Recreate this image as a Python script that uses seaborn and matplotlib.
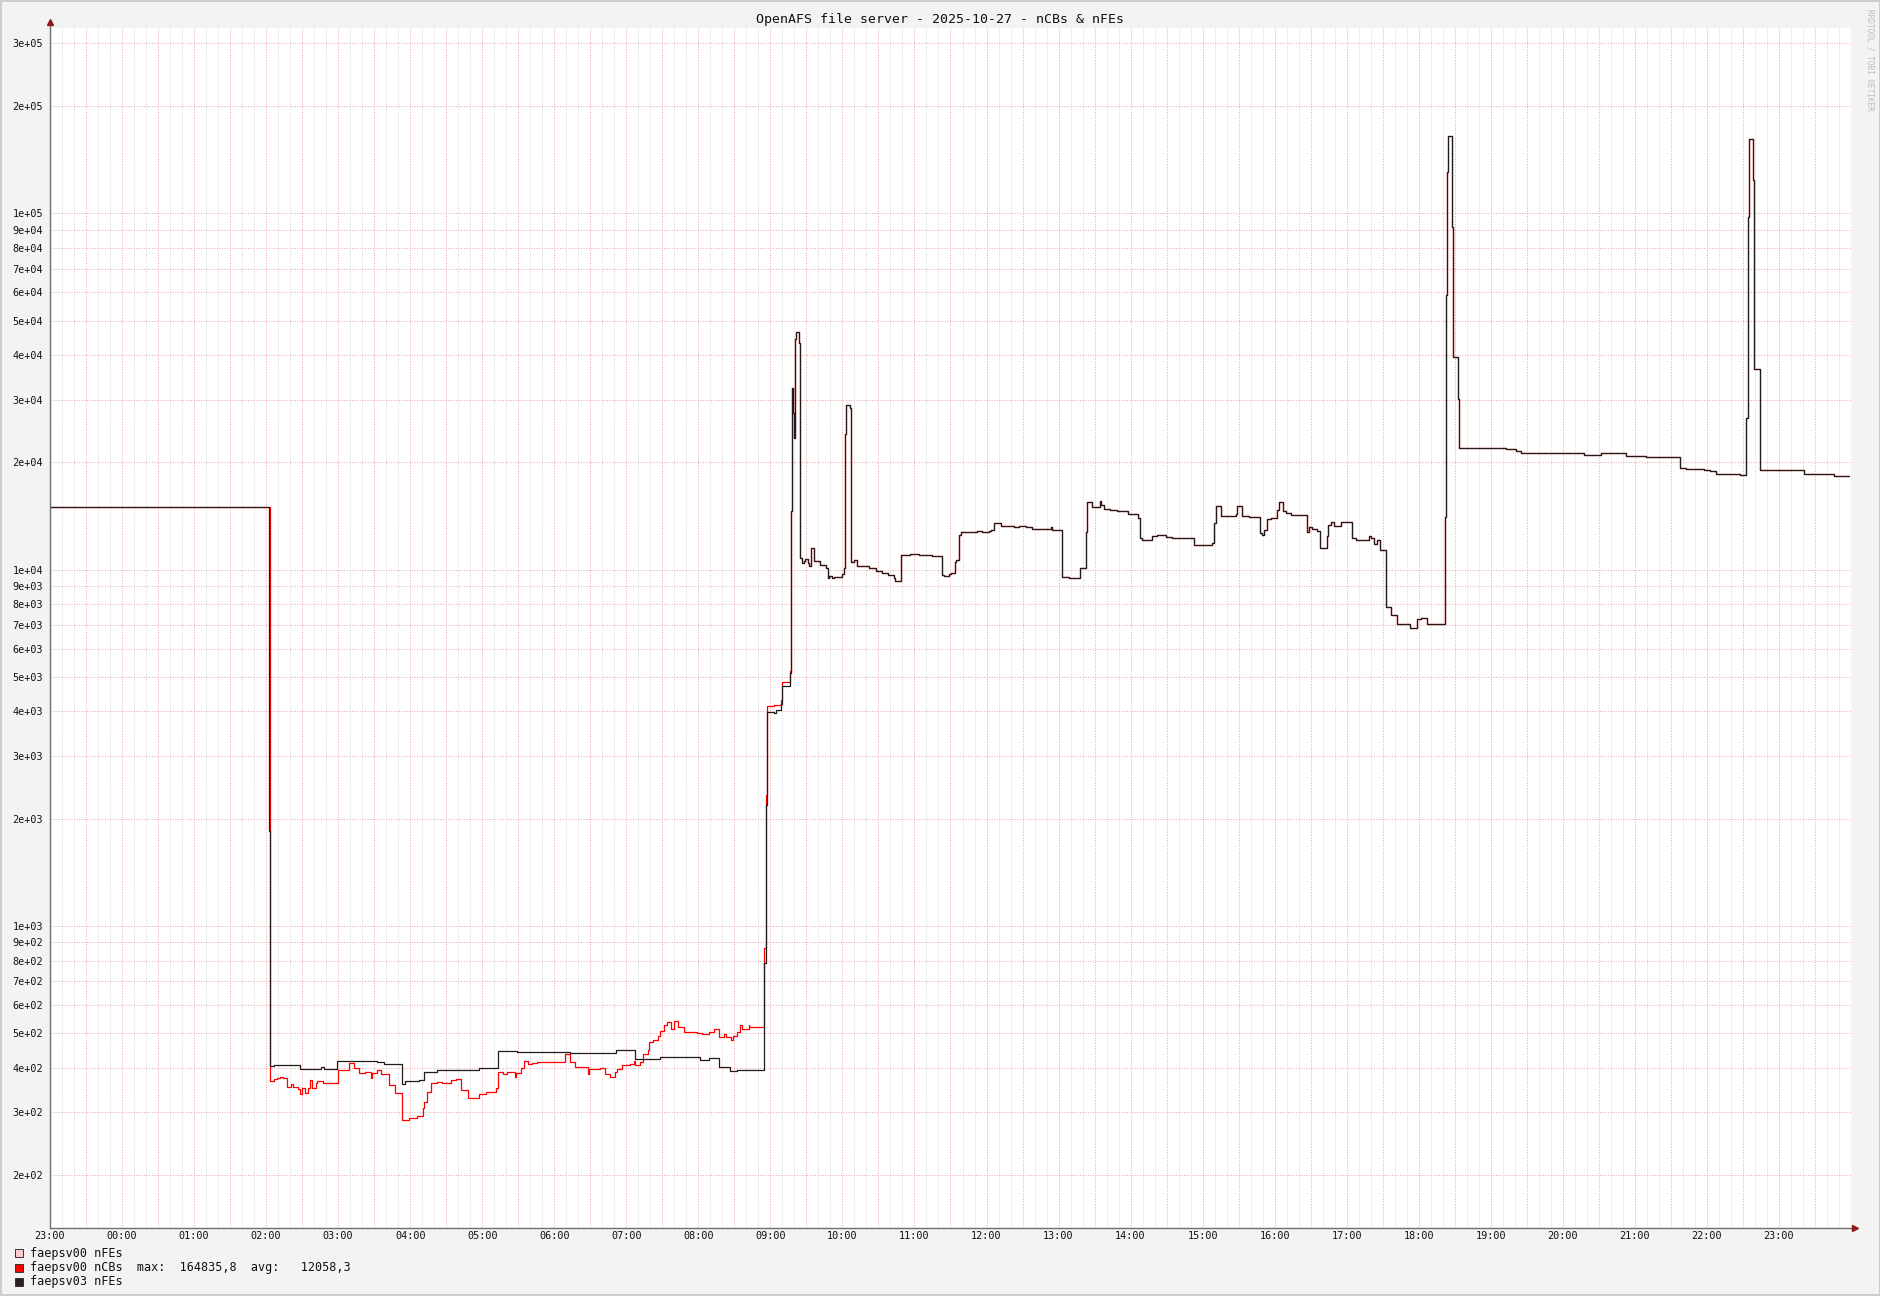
import numpy as np
import pandas as pd
import matplotlib
matplotlib.use("Agg")
import matplotlib.pyplot as plt
from matplotlib.patches import Rectangle
from matplotlib.lines import Line2D
from matplotlib.ticker import NullLocator
import seaborn as sns

# hours since 23:00 of the previous day
black_night_t = [0.0, 3.040, 3.056, 3.111, 3.467, 3.760, 3.808, 3.979, 4.222, 4.539,
                 4.637, 4.881, 4.930, 5.125, 5.197, 5.368, 5.953, 6.221, 6.489, 7.220,
                 7.853, 8.125, 8.472, 8.796, 8.958, 9.028, 9.144, 9.282, 9.444, 9.537,
                 9.907, 9.935, 9.949, 10.046, 10.083, 10.148, 10.162, 10.269]
black_night_v = [15000, 1850, 405, 408, 398, 402, 396, 419, 417, 415,
                 410, 361, 367, 369, 390, 393, 399, 446, 443, 439,
                 448, 422, 428, 430, 428, 421, 426, 401, 392, 395,
                 785, 2186, 3995, 3950, 4050, 4200, 4717, 5117]

red_night_t = [0.0, 3.056, 3.111, 3.148, 3.194, 3.231, 3.296, 3.346, 3.370, 3.443,
               3.475, 3.492, 3.541, 3.580, 3.614, 3.638, 3.687, 3.711, 3.784, 3.994,
               4.150, 4.223, 4.296, 4.369, 4.450, 4.466, 4.540, 4.588, 4.710, 4.783,
               4.881, 4.978, 5.100, 5.173, 5.197, 5.240, 5.295, 5.368, 5.441, 5.563,
               5.636, 5.709, 5.807, 5.953, 6.050, 6.197, 6.221, 6.294, 6.343, 6.450,
               6.465, 6.538, 6.586, 6.635, 6.684, 6.757, 7.147, 7.220, 7.293, 7.366,
               7.463, 7.480, 7.639, 7.708, 7.778, 7.847, 7.870, 7.940, 8.056, 8.102,
               8.125, 8.194, 8.227, 8.296, 8.320, 8.366, 8.435, 8.472, 8.519, 8.565,
               8.625, 8.657, 8.718, 8.796, 8.981, 9.051, 9.144, 9.213, 9.282, 9.361,
               9.384, 9.454, 9.477, 9.537, 9.574, 9.606, 9.700, 9.708, 9.907, 9.935,
               9.949, 10.046, 10.148, 10.162, 10.269]
red_night_v = [15000, 367, 372, 374, 377, 375, 354, 360, 354, 348,
               338, 350, 340, 350, 370, 350, 362, 367, 363, 393,
               413, 400, 387, 390, 375, 387, 393, 383, 357, 340,
               285, 290, 293, 309, 320, 342, 362, 366, 362, 370,
               372, 346, 330, 337, 342, 350, 389, 383, 389, 378,
               387, 400, 418, 409, 413, 415, 436, 416, 403, 401,
               385, 398, 400, 384, 378, 388, 397, 407, 409, 418,
               407, 416, 437, 448, 471, 478, 490, 508, 527, 538,
               515, 540, 520, 503, 500, 497, 505, 513, 489, 497,
               489, 480, 492, 503, 527, 513, 527, 520, 865, 2334,
               4146, 4160, 4300, 4850, 5200]

# from ~09:17 on both series run together
day_t = [10.282, 10.296, 10.315, 10.325, 10.347, 10.361, 10.393, 10.412, 10.440, 10.463,
         10.477, 10.519, 10.542, 10.565, 10.602, 10.685, 10.778, 10.796, 10.819, 10.856,
         10.880, 10.995, 11.019, 11.042, 11.051, 11.102, 11.120, 11.157, 11.204, 11.375,
         11.468, 11.551, 11.629, 11.713, 11.736, 11.806, 11.815, 11.944, 12.060, 12.245,
         12.384, 12.407, 12.477, 12.509, 12.556, 12.583, 12.616, 12.639, 12.801, 12.870,
         12.940, 13.032, 13.056, 13.102, 13.204, 13.380, 13.449, 13.542, 13.634, 13.657,
         13.889, 13.912, 14.051, 14.144, 14.213, 14.296, 14.384, 14.398, 14.468, 14.514,
         14.574, 14.593, 14.630, 14.713, 14.806, 14.884, 14.963, 15.046, 15.102, 15.130,
         15.162, 15.292, 15.370, 15.486, 15.579, 15.880, 16.134, 16.157, 16.181, 16.250,
         16.458, 16.481, 16.551, 16.644, 16.796, 16.829, 16.852, 16.889, 16.944, 17.037,
         17.060, 17.116, 17.153, 17.222, 17.454, 17.477, 17.523, 17.593, 17.630, 17.722,
         17.741, 17.778, 17.824, 17.917, 18.079, 18.125, 18.310, 18.333, 18.380, 18.417,
         18.458, 18.542, 18.611, 18.704, 18.880, 18.972, 19.028, 19.120, 19.366, 19.384,
         19.398, 19.407, 19.458, 19.477, 19.546, 19.565, 20.208, 20.347, 20.426, 20.532,
         21.296, 21.528, 21.713, 21.875, 22.153, 22.630, 22.708, 22.963, 23.046, 23.125,
         23.463, 23.542, 23.565, 23.579, 23.634, 23.648, 23.657, 23.731, 24.352, 24.769,
         24.977]
day_v = [14640, 32300, 27500, 23400, 44300, 46600, 43400, 10770, 10420, 10600,
         10700, 10420, 10250, 11530, 10590, 10330, 10090, 9460, 9600, 9460,
         9540, 9700, 10100, 24100, 29000, 28400, 10500, 10650, 10250, 10100,
         9900, 9800, 9690, 9500, 9310, 10000, 11000, 11080, 11000, 10900,
         9690, 9620, 9750, 9800, 10530, 10650, 12500, 12730, 12780, 12830,
         12730, 12850, 12950, 13550, 13270, 13220, 13270, 13220, 13050, 12980,
         13150, 12900, 9556, 9500, 9460, 10090, 12800, 15450, 14950, 15000,
         15600, 15200, 14790, 14700, 14590, 14650, 14370, 14300, 14000, 12250,
         12150, 12420, 12530, 12350, 12260, 11730, 11850, 13490, 15130, 14150,
         14300, 15130, 14180, 14030, 12700, 12500, 12950, 13900, 13960, 14700,
         15450, 14600, 14450, 14230, 12800, 13150, 13000, 12850, 11510, 12400,
         13350, 13650, 13280, 13590, 12260, 12100, 12400, 12260, 11800, 12150,
         11350, 7870, 7460, 7040, 6846, 7280, 7300, 7060, 14100, 59000,
         131000, 164800, 91800, 39600, 30100, 21900, 21800, 21600, 21300, 21200,
         21050, 21300, 21200, 20900, 20700, 19300, 19200, 19100, 18900, 18600,
         18500, 26600, 98000, 161500, 124000, 56500, 36500, 19000, 18600, 18330,
         18330]

hour_labels = ["23:00", "00:00", "01:00", "02:00", "03:00", "04:00", "05:00", "06:00",
               "07:00", "08:00", "09:00", "10:00", "11:00", "12:00", "13:00", "14:00",
               "15:00", "16:00", "17:00", "18:00", "19:00", "20:00", "21:00", "22:00",
               "23:00"]
y_ticks = [200, 300, 400, 500, 600, 700, 800, 900,
           1000, 2000, 3000, 4000, 5000, 6000, 7000, 8000, 9000,
           10000, 20000, 30000, 40000, 50000, 60000, 70000, 80000, 90000,
           100000, 200000, 300000]

legend_names = ["faepsv00 nFEs", "faepsv00 nCBs", "faepsv03 nFEs"]
legend_colors = ["#FFCCCC", "#FF0000", "#2B1F1F"]
ncbs_max = "164835,8"
ncbs_avg = "12058,3"
title = "OpenAFS file server - 2025-10-27 - nCBs & nFEs"

W, H = 1881, 1296
GRID_RED = "#EBA6A6"
GRID_GRAY = "#D6D6D6"
DOTS = (0, (1, 1.6))

black = pd.DataFrame({"hours": black_night_t + day_t, "value": black_night_v + day_v})
black["series"] = "faepsv03 nFEs"
red = pd.DataFrame({"hours": red_night_t + day_t, "value": red_night_v + day_v})
red["series"] = "faepsv00 nCBs"
df = pd.concat([red, black], ignore_index=True)

sns.set_style("white")
plt.rcParams["font.family"] = ["DejaVu Sans Mono"]

fig = plt.figure(figsize=(W / 100, H / 100), dpi=100, facecolor="#F3F3F3")
ax = fig.add_axes([50 / W, 68 / H, 1801 / W, 1200 / H])
ax.set_facecolor("white")
ax.set_yscale("log")

# grid, drawn by hand like rrdtool: 10 min gray, 30 min red
for k in range(151):
    t = k / 6
    if k % 3 == 0:
        ax.axvline(t, color=GRID_RED, lw=0.72, ls=DOTS, zorder=0)
    else:
        ax.axvline(t, color=GRID_GRAY, lw=0.72, ls=DOTS, zorder=0)
for y in y_ticks:
    ax.axhline(y, color=GRID_RED, lw=0.72, ls=DOTS, zorder=0)

sns.lineplot(data=df, x="hours", y="value", hue="series",
             hue_order=["faepsv00 nCBs", "faepsv03 nFEs"],
             palette={"faepsv00 nCBs": "#FF0000", "faepsv03 nFEs": "#231A1A"},
             estimator=None, drawstyle="steps-post", linewidth=0.9,
             legend=False, ax=ax, zorder=3)

ax.set_xlim(0, 25)
ax.set_ylim(142, 331500)
ax.set_xticks(range(25))
ax.set_xticklabels(hour_labels)
ax.set_yticks(y_ticks)
ax.set_yticklabels([f"{int(str(v)[0])}e{int(np.log10(v)):+03d}" for v in y_ticks])
ax.xaxis.set_minor_locator(NullLocator())
ax.yaxis.set_minor_locator(NullLocator())
ax.tick_params(axis="x", length=0, pad=2.5, labelsize=7.3, colors="#111111")
ax.tick_params(axis="y", length=0, pad=5, labelsize=7.3, colors="#111111")
ax.set_xlabel("")
ax.set_ylabel("")

for s in ["top", "right"]:
    ax.spines[s].set_visible(False)
for s in ["left", "bottom"]:
    ax.spines[s].set_color("#707070")
    ax.spines[s].set_linewidth(1.0)
    ax.spines[s].set_zorder(4)

# axis arrows
ax.add_line(Line2D([0, 0], [1, 1 + 5 / 1200], transform=ax.transAxes, color="#707070",
                   lw=1.0, clip_on=False))
ax.plot([0], [1 + 6 / 1200], marker="^", ms=4, color="#8B1A1A", transform=ax.transAxes,
        clip_on=False, zorder=5)
ax.add_line(Line2D([1, 1 + 3 / 1801], [0, 0], transform=ax.transAxes, color="#707070",
                   lw=1.0, clip_on=False))
ax.plot([1 + 4 / 1801], [0], marker=">", ms=4, color="#8B1A1A", transform=ax.transAxes,
        clip_on=False, zorder=5)

fig.text(0.5, 1 - 20 / H, title, ha="center", va="center", fontsize=9.5, color="#111111")
fig.text(1870 / W, 1 - 60 / H, "RRDTOOL / TOBI OETIKER", rotation=270, ha="center",
         va="center", fontsize=5.6, color="#BDBDBD")

# legend
rows = [1253, 1268, 1282]
texts = [legend_names[0],
         f"{legend_names[1]}  max:  {ncbs_max}  avg:   {ncbs_avg}",
         legend_names[2]]
for ry, col, txt in zip(rows, legend_colors, texts):
    fig.patches.append(Rectangle((15 / W, 1 - (ry + 4) / H), 8 / W, 8 / H,
                                 transform=fig.transFigure, facecolor=col,
                                 edgecolor="#333333", lw=0.7))
    fig.text(30.5 / W, 1 - ry / H, txt, ha="left", va="center", fontsize=8.5, color="#111111")

fig.patches.append(Rectangle((0, 0), 1, 1, transform=fig.transFigure, fill=False,
                             edgecolor="#CCCCCC", lw=2.9))

fig.savefig("out.png", dpi=100, facecolor=fig.get_facecolor())
